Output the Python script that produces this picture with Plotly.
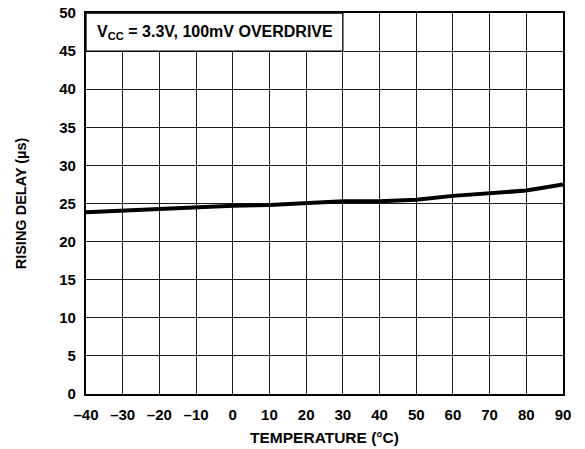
import plotly.graph_objects as go

temperature = [-40, -30, -20, -10, 0, 10, 20, 30, 40, 50, 60, 70, 80, 90]
rising_delay = [23.85, 24.05, 24.3, 24.55, 24.7, 24.8, 25.0, 25.3, 25.3, 25.5, 26.0, 26.3, 26.7, 27.5]
x_ticks = list(range(-40, 91, 10))
x_tick_labels = [("\u2013" + str(-v)) if v < 0 else str(v) for v in x_ticks]
y_ticks = list(range(0, 51, 5))

FONT = "Liberation Sans, Arial, sans-serif"

fig = go.Figure()
fig.add_trace(go.Scatter(x=temperature, y=rising_delay, mode="lines",
                         line=dict(color="black", width=4), showlegend=False,
                         hoverinfo="skip"))

fig.add_shape(type="rect", xref="x", yref="y", x0=-40, x1=30, y0=45, y1=50,
              fillcolor="white", line=dict(color="black", width=1.3), layer="above")
fig.add_annotation(x=-37.6, y=47.4, xref="x", yref="y", xanchor="left", yanchor="middle",
                   text="<b>V<sub>CC</sub> = 3.3V, 100mV OVERDRIVE</b>", showarrow=False,
                   font=dict(family=FONT, size=16, color="black"))

axis_font = dict(family=FONT, size=15, color="black")
fig.update_xaxes(range=[-40, 90], tickvals=x_ticks,
                 ticktext=["<b>%s</b>" % t for t in x_tick_labels],
                 showgrid=True, gridcolor="#1a1a1a", gridwidth=1.3,
                 showline=True, linecolor="black", linewidth=2.2, mirror=True,
                 ticks="", tickfont=axis_font, zeroline=False, automargin=False,
                 ticklabelstandoff=6,
                 title=dict(text="<b>TEMPERATURE (°C)</b>",
                            font=dict(family=FONT, size=15.5, color="black"), standoff=10))
fig.update_yaxes(range=[0, 50], tickvals=y_ticks,
                 ticktext=["<b>%d</b>" % v for v in y_ticks],
                 showgrid=True, gridcolor="#1a1a1a", gridwidth=1.3,
                 showline=True, linecolor="black", linewidth=2.2, mirror=True,
                 ticks="", tickfont=axis_font, zeroline=False, automargin=False,
                 ticklabelstandoff=5,
                 title=dict(text="<b>RISING DELAY (µs)</b>",
                            font=dict(family=FONT, size=14.5, color="black"), standoff=29))

fig.update_layout(width=585, height=449, margin=dict(l=86, r=22, t=13, b=55, autoexpand=False),
                  plot_bgcolor="white", paper_bgcolor="white")
fig.write_html("out.html", config={"displayModeBar": False},
               post_script="document.body.style.margin='0';document.body.style.overflow='hidden';")
